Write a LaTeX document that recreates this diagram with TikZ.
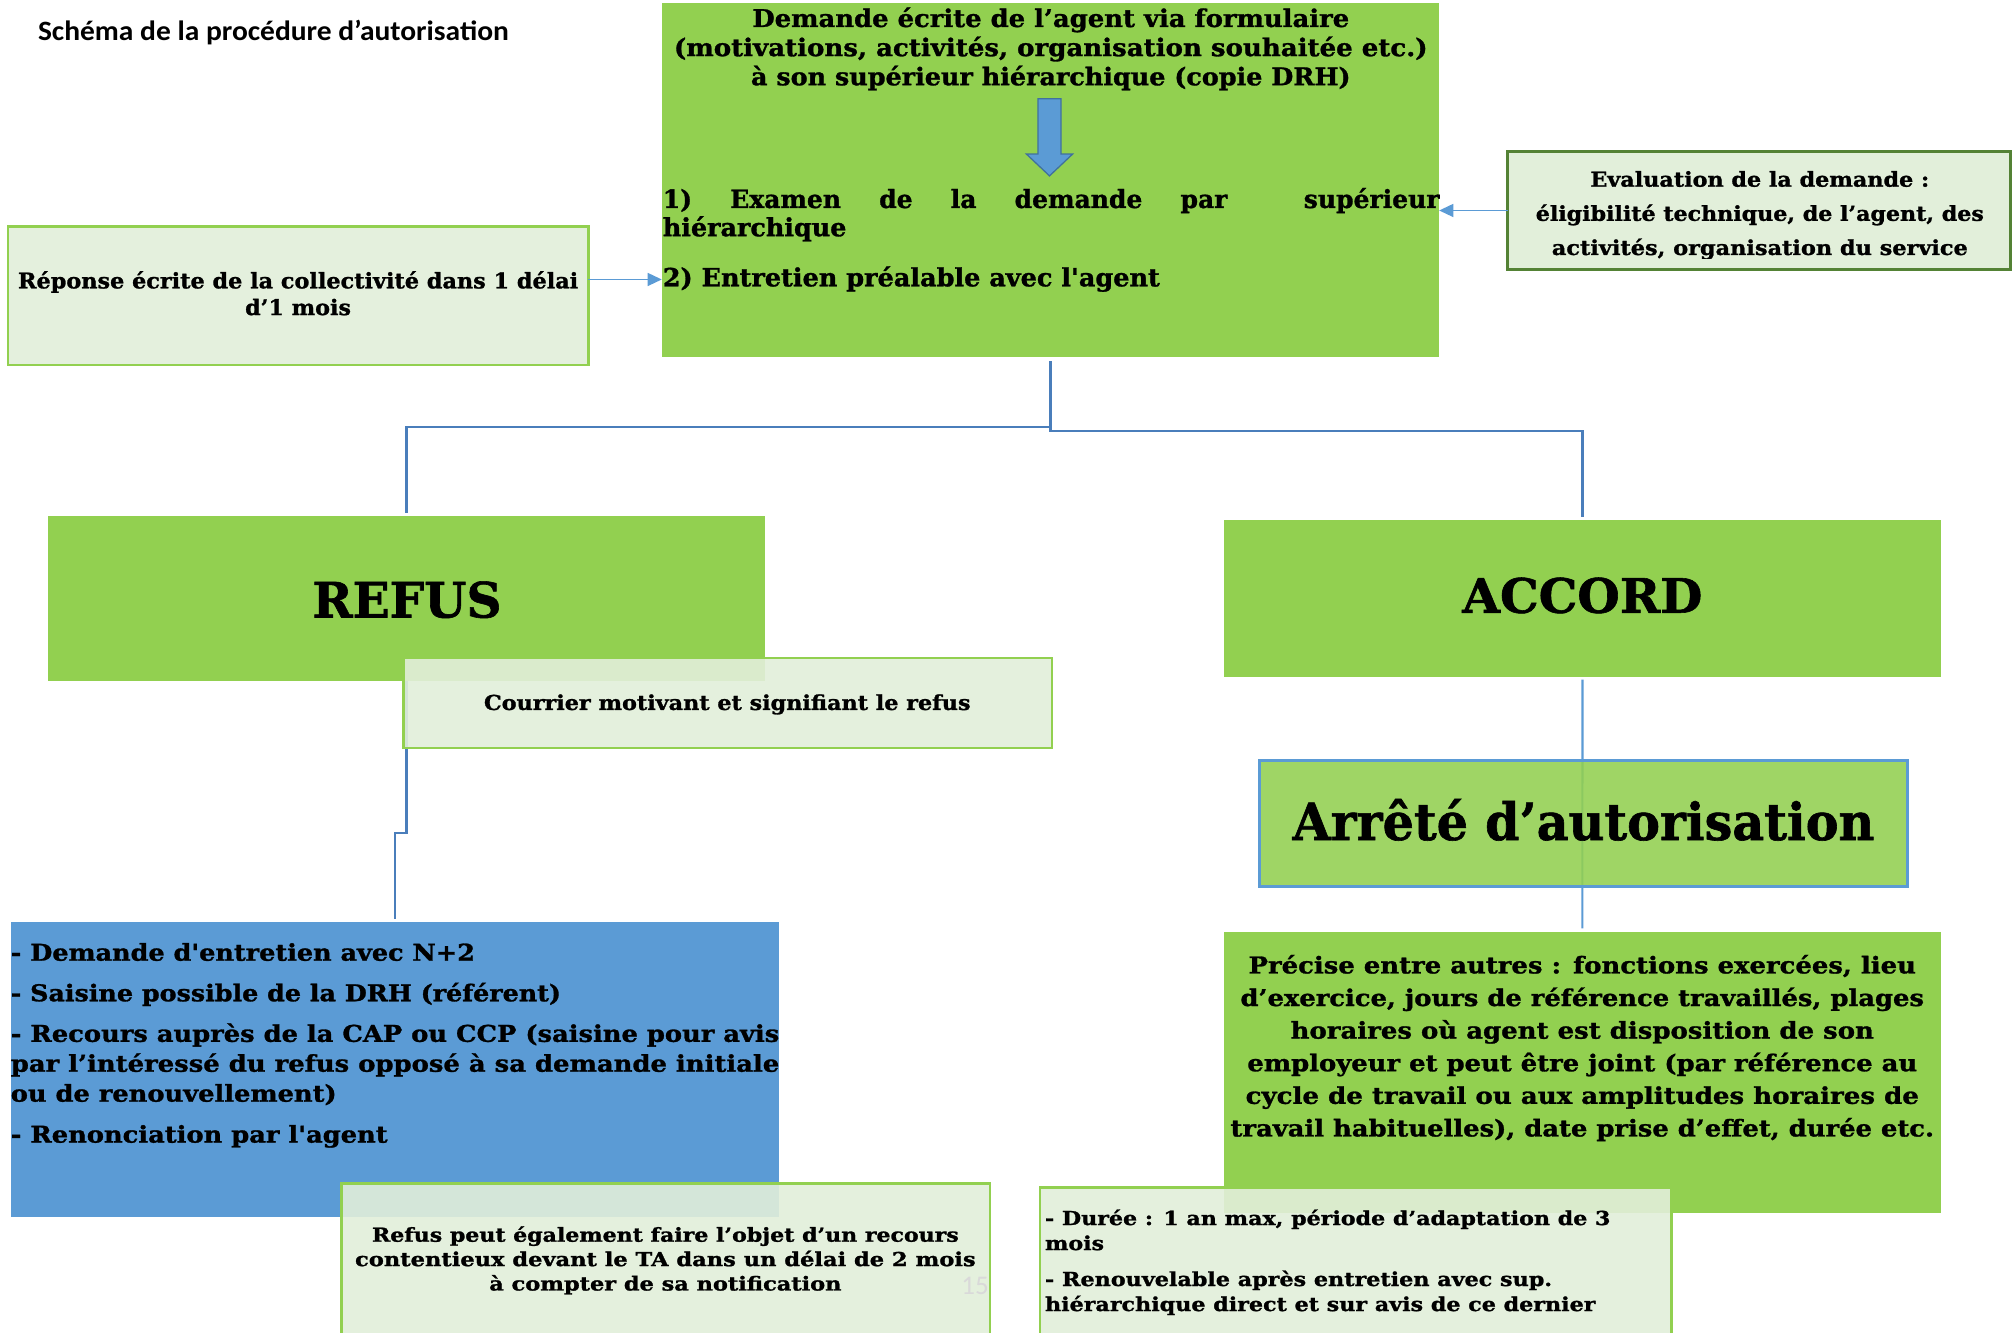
\documentclass[tikz,border=0pt]{standalone}
\usepackage{fontspec}
\usepackage{graphicx}
\usetikzlibrary{arrows.meta}
\newfontfamily\bkf[Ligatures=TeXOff, BoldFeatures={FakeBold=1.2}]{DejaVu Serif}
\newfontfamily\carl[Ligatures=TeXOff]{Carlito}
\definecolor{grn}{HTML}{92D050}
\definecolor{lgrn}{HTML}{E2EFDA}
\definecolor{dgrn}{HTML}{548235}
\definecolor{bblue}{HTML}{5B9BD5}
\definecolor{cblue}{HTML}{4A7EBB}
\definecolor{dblue}{HTML}{41719C}
\definecolor{pgray}{HTML}{D9D9D9}
\newcommand\fitw[2]{\resizebox{#1pt}{\height}{#2}}
\tikzset{
 sz/.style 2 args={minimum width=#1pt, minimum height=#2pt},
 gbox/.style={rectangle, fill=grn, draw=none, inner sep=0pt, outer sep=0pt, anchor=north west},
 lbox/.style={rectangle, fill=lgrn, fill opacity=0.9, draw=grn, line width=2pt, inner sep=0pt, outer sep=0pt, anchor=north west},
 txt/.style={inner sep=0pt, outer sep=0pt, text=black},
 conn/.style={draw=cblue, line width=1.8pt},
 connb/.style={draw=bblue, line width=1.6pt},
 barrow/.style={draw=bblue, line width=1.5pt, -{Triangle[length=11pt,width=10pt]}},
}
\begin{document}
\begin{tikzpicture}[x=1pt,y=-1pt]
\useasboundingbox (0,0) rectangle (1568,1038.3);
\fill[white] (0,0) rectangle (1568,1038.3);

% title
\node[txt, font=\carl\bfseries\fontsize{21.8}{26}\selectfont, anchor=base west] (title) at (29.6,31.7) {\fitw{366.8}{Schéma de la procédure d’autorisation}};

% top box
\node[gbox, sz={605.5}{275.7}] (top) at (515.5,2.6) {};
\node[txt, font=\bkf\bfseries\fontsize{19}{22.7}\selectfont, align=center, anchor=base] (topT) at (818.5,66.4) {\fitw{465}{Demande écrite de l’agent via formulaire}\\\fitw{587}{(motivations, activités, organisation souhaitée etc.)}\\\fitw{467}{à son supérieur hiérarchique (copie DRH)}};
\draw[fill=bblue, draw=dblue, line width=1pt] (808.5,77) -- (826.5,77) -- (826.5,120) -- (835.5,120) -- (817.5,137) -- (799.5,120) -- (808.5,120) -- cycle;
\node[txt, font=\bkf\bfseries\fontsize{19.5}{22}\selectfont, anchor=base west] (exT) at (516.3,162) {\hbox to 605pt{1)\hfill Examen\hfill de\hfill la\hfill demande\hfill par\hfill\hfill supérieur}};
\node[txt, font=\bkf\bfseries\fontsize{19.5}{22}\selectfont, anchor=base west] (hiT) at (516.3,184) {\fitw{143}{hiérarchique}};
\node[txt, font=\bkf\bfseries\fontsize{19.5}{22}\selectfont, anchor=base west] (entT) at (516.3,223) {\fitw{387.2}{2) Entretien préalable avec l'agent}};

% left response box
\node[lbox, sz={452}{108}] (reponse) at (6.3,176.3) {};
\node[txt, font=\bkf\bfseries\fontsize{16.7}{20.8}\selectfont, align=center, anchor=base] (repT) at (232.2,245.4) {\fitw{436.4}{Réponse écrite de la collectivité dans 1 délai}\\\fitw{82.4}{d’1 mois}};
\coordinate (ra) at ([yshift=12.6pt]reponse.east);
\draw[barrow] (ra) -- (ra -| top.west);

% right evaluation box
\node[lbox, fill opacity=1, draw=dgrn, line width=2.3pt, sz={391.5}{91.3}] (eval) at (1174.5,118.3) {};
\begin{scope}
\clip (1176,119.5) rectangle (1564.5,201);
\node[txt, font=\bkf\bfseries\fontsize{16}{26.6}\selectfont, align=center, anchor=base] (evalT) at (1370.8,198.6) {\fitw{264}{Evaluation de la demande :}\\\fitw{349}{éligibilité technique, de l’agent, des}\\\fitw{324}{activités, organisation du service}};
\end{scope}
\draw[barrow] (eval.west) -- (eval.west -| top.east);

% REFUS / ACCORD
\node[gbox, sz={558.6}{128.5}] (refus) at (37.4,401.7) {};
\node[txt, font=\bkf\bfseries\fontsize{38}{44}\selectfont, anchor=base] (refusT) at (317,481) {\fitw{147.4}{REFUS}};
\node[gbox, sz={557.9}{122.1}] (accord) at (953.7,404.9) {};
\node[txt, font=\bkf\bfseries\fontsize{37}{44}\selectfont, anchor=base] (accordT) at (1232.5,477.3) {\fitw{187}{ACCORD}};

% T connector
\coordinate (jT) at ([yshift=-3pt]top.south);
\draw[conn] (jT) -- ++(0,51.1) -| ([yshift=2.3pt]refus.north);
\draw[conn] (jT) -- ++(0,54.4) -| ([yshift=2.1pt]accord.north);

% refus branch
\node[rectangle, fill=bblue, inner sep=0pt, outer sep=0pt, anchor=north west, sz={598.6}{230}] (blue) at (8.4,718) {};
\draw[conn] (refus.south) -- ++(0,118.8) -| ([yshift=2.5pt]blue.north);
\node[lbox, sz={505.1}{70.1}] (courrier) at (314.4,512.6) {};
\node[txt, font=\bkf\bfseries\fontsize{16}{20}\selectfont, anchor=base] (courT) at (566.5,553) {\fitw{379}{Courrier motivant et signifiant le refus}};
\node[txt, font=\bkf\bfseries\fontsize{18}{23.3}\selectfont, align=left, anchor=base west] (blueT) at (8.4,890) {\fitw{361.6}{- Demande d'entretien avec N+2}\\[8.3pt]\fitw{428.6}{- Saisine possible de la DRH (référent)}\\[8.3pt]\fitw{598.6}{- Recours auprès de la CAP ou CCP (saisine pour avis}\\\fitw{598.6}{par l’intéressé du refus opposé à sa demande initiale}\\\fitw{253.9}{ou de renouvellement)}\\[8.6pt]\fitw{293.6}{- Renonciation par l'agent}};
\node[lbox, sz={505.2}{130}] (rp) at (265.8,921.8) {};
\node[txt, font=\bkf\bfseries\fontsize{15}{19}\selectfont, align=center, anchor=base] (rpT) at (518.3,1005.2) {\fitw{457.1}{Refus peut également faire l’objet d’un recours}\\\fitw{483.4}{contentieux devant le TA dans un délai de 2 mois}\\\fitw{274.3}{à compter de sa notification}};
\node[txt, font=\carl\fontsize{21}{25}\selectfont, text=pgray, anchor=base] (pnum) at (759.5,1008) {15};

% accord branch
\node[gbox, sz={558}{218.4}] (precise) at (953.6,726.2) {};
\draw[connb] ([yshift=-2.4pt]accord.south) -- ([yshift=3pt]precise.north);
\node[gbox, fill opacity=0.88, draw=bblue, line width=2.3pt, sz={505.3}{97.9}] (arrete) at (980.7,592.7) {};
\node[txt, font=\bkf\bfseries\fontsize{40}{46}\selectfont, anchor=base] (arreteT) at (1233.4,654.3) {\fitw{453.2}{Arrêté d’autorisation}};
\node[txt, font=\bkf\bfseries\fontsize{18}{25.4}\selectfont, align=center, anchor=base] (prT) at (1232.5,885.2) {\fitw{519.9}{Précise entre autres : fonctions exercées, lieu}\\\fitw{532.4}{d’exercice, jours de référence travaillés, plages}\\\fitw{454.4}{horaires où agent est disposition de son}\\\fitw{521.8}{employeur et peut être joint (par référence au}\\\fitw{524.4}{cycle de travail ou aux amplitudes horaires de}\\\fitw{548}{travail habituelles), date prise d’effet, durée etc.}};
\node[lbox, sz={492}{130}] (duree) at (810,924.8) {};
\node[txt, font=\bkf\bfseries\fontsize{15}{19.5}\selectfont, align=left, anchor=base west] (durT) at (814,1021.2) {\fitw{440.5}{- Durée : 1 an max, période d’adaptation de 3}\\\fitw{46}{mois}\\[8.5pt]\fitw{395}{- Renouvelable après entretien avec sup.}\\\fitw{428.8}{hiérarchique direct et sur avis de ce dernier}};
\end{tikzpicture}
\end{document}
